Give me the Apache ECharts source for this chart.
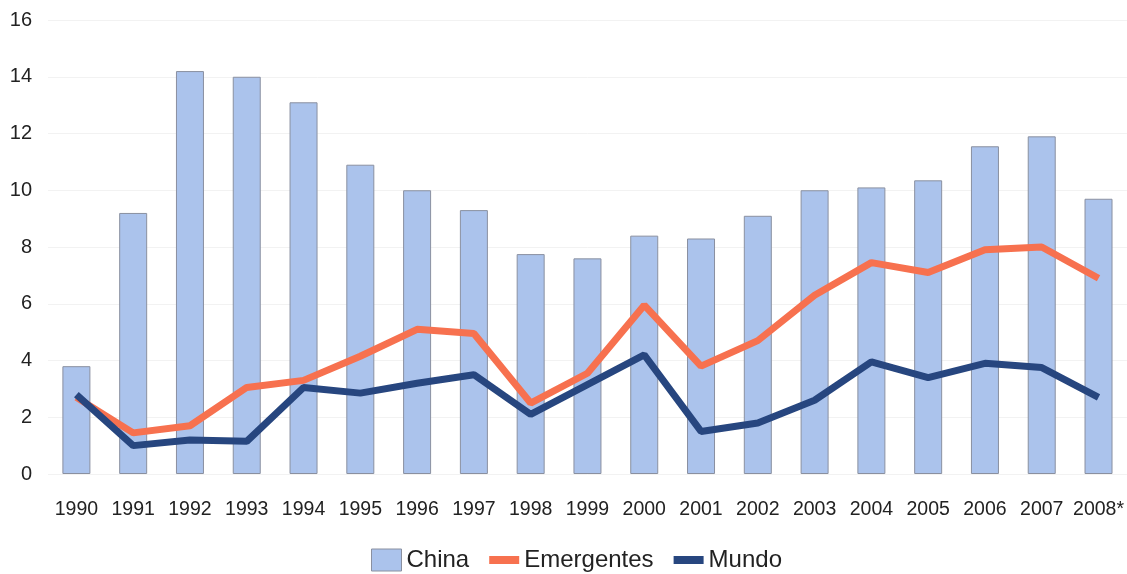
<!DOCTYPE html>
<html>
<head>
<meta charset="utf-8">
<script src="https://cdn.jsdelivr.net/npm/echarts@6/dist/echarts.min.js"></script>
<style>
  html, body { margin: 0; padding: 0; background: #fff; }
  #chart { width: 1127px; height: 574px; }
</style>
</head>
<body>
<div id="chart"></div>
<script>
// categorias
const years = ['1990', '1991', '1992', '1993', '1994', '1995', '1996', '1997', '1998', '1999',
  '2000', '2001', '2002', '2003', '2004', '2005', '2006', '2007', '2008*'];
// series
const china = [3.8, 9.2, 14.2, 14.0, 13.1, 10.9, 10.0, 9.3, 7.75, 7.6,
  8.4, 8.3, 9.1, 10.0, 10.1, 10.35, 11.55, 11.9, 9.7];
const emergentes = [2.7, 1.45, 1.7, 3.05, 3.3, 4.15, 5.1, 4.95, 2.5, 3.55,
  5.95, 3.8, 4.7, 6.3, 7.45, 7.1, 7.9, 8.0, 6.9];
const mundo = [2.8, 1.0, 1.2, 1.15, 3.05, 2.85, 3.2, 3.5, 2.1, 3.15,
  4.2, 1.5, 1.8, 2.6, 3.95, 3.4, 3.9, 3.75, 2.7];

const chart = echarts.init(document.getElementById('chart'));
const font = 'Liberation Sans, Arial, sans-serif';

chart.setOption({
  animation: false,
  textStyle: { fontFamily: font },
  grid: {
    left: 48,
    right: 0,
    top: 20,
    bottom: 100
  },
  legend: {
    bottom: 2,
    left: 371,
    padding: 0,
    itemWidth: 30,
    itemHeight: 22,
    itemGap: 20,
    textStyle: { fontSize: 24, color: '#222', fontFamily: font },
    data: [
      { name: 'China', icon: 'rect', itemStyle: { color: '#abc3ec', borderColor: '#8a90a0', borderWidth: 1 } },
      { name: 'Emergentes', icon: 'path://M0,0 H30 V8 H0 Z' },
      { name: 'Mundo', icon: 'path://M0,0 H30 V8 H0 Z' }
    ]
  },
  xAxis: {
    type: 'category',
    data: years,
    axisLine: { show: false },
    axisTick: { show: false },
    axisLabel: { color: '#222', fontSize: 19.5, margin: 26, interval: 0 }
  },
  yAxis: {
    type: 'value',
    min: 0,
    max: 16,
    interval: 2,
    axisLine: { show: false },
    axisTick: { show: false },
    axisLabel: { color: '#222', fontSize: 20, margin: 16 },
    splitLine: { lineStyle: { color: '#f2f2f2', width: 1 } }
  },
  series: [
    {
      name: 'China',
      type: 'bar',
      data: china,
      barWidth: 28,
      itemStyle: { color: '#abc3ec', borderColor: '#8a90a0', borderWidth: 1 }
    },
    {
      name: 'Emergentes',
      type: 'line',
      data: emergentes,
      symbol: 'none',
      lineStyle: { color: '#f7714f', width: 7 },
      itemStyle: { color: '#f7714f' }
    },
    {
      name: 'Mundo',
      type: 'line',
      data: mundo,
      symbol: 'none',
      lineStyle: { color: '#27467f', width: 7 },
      itemStyle: { color: '#27467f' }
    }
  ]
});
</script>
</body>
</html>
